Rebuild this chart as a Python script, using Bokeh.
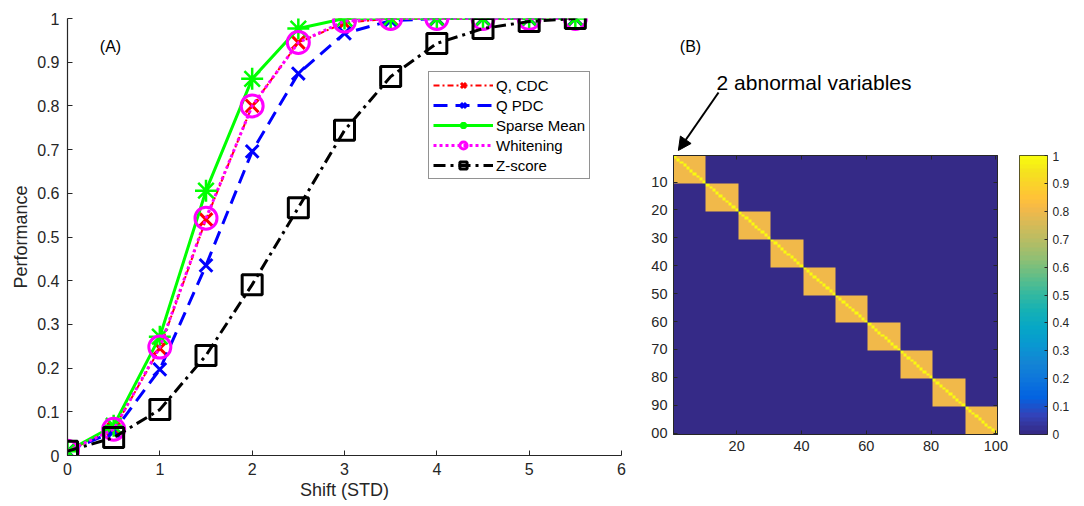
import numpy as np
from bokeh.plotting import figure
from bokeh.models import (Range1d, FixedTicker, Legend, LegendItem, Label, Arrow, NormalHead,
                          LinearAxis, LinearColorMapper)
from bokeh.layouts import row, column
from bokeh.embed import file_html
from bokeh.resources import INLINE

# ---------------- data: panel (A) ----------------
shift = [0, 0.5, 1, 1.5, 2, 2.5, 3, 3.5, 4, 4.5, 5, 5.5]
q_cdc = [0.01, 0.06, 0.245, 0.54, 0.80, 0.945, 0.99, 1.0, 1.0, 1.0, 1.0, 1.0]
q_pdc = [0.01, 0.055, 0.197, 0.435, 0.696, 0.874, 0.966, 0.995, 1.0, 1.0, 1.0, 1.0]
sparse_mean = [0.01, 0.068, 0.272, 0.606, 0.862, 0.977, 1.0, 1.0, 1.0, 1.0, 1.0, 1.0]
whitening = [0.01, 0.06, 0.248, 0.543, 0.80, 0.945, 0.994, 1.0, 1.0, 1.0, 1.0, 1.0]
z_score = [0.01, 0.041, 0.105, 0.229, 0.391, 0.567, 0.744, 0.867, 0.943, 0.977, 0.993, 1.0]
series_names = ["Q, CDC", "Q PDC", "Sparse Mean", "Whitening", "Z-score"]

x_ticks_a = [0, 1, 2, 3, 4, 5, 6]
y_ticks_a = [0, 0.1, 0.2, 0.3, 0.4, 0.5, 0.6, 0.7, 0.8, 0.9, 1]
y_labels_a = ["0", "0.1", "0.2", "0.3", "0.4", "0.5", "0.6", "0.7", "0.8", "0.9", "1"]

# ---------------- data: panel (B) ----------------
n_vars = 100
block_size = 10
within_block = 0.8
diagonal_value = 1.0
hm_x_ticks = [20, 40, 60, 80, 100]
hm_y_ticks = [10, 20, 30, 40, 50, 60, 70, 80, 90, 100]
hm_y_labels = ["10", "20", "30", "40", "50", "60", "70", "80", "90", "00"]
cb_ticks = [0, 0.1, 0.2, 0.3, 0.4, 0.5, 0.6, 0.7, 0.8, 0.9, 1]
cb_labels = ["0", "0.1", "0.2", "0.3", "0.4", "0.5", "0.6", "0.7", "0.8", "0.9", "1"]

FONT = "Liberation Sans"
AX = "#262626"

# ---------------- parula colormap (MATLAB default) ----------------
parula_idx = [0, 4, 8, 12, 16, 20, 24, 28, 32, 36, 40, 44, 48, 50, 51, 52, 54, 56, 60, 63]
parula_rgb = [
    (0.2081, 0.1663, 0.5292), (0.1959, 0.2645, 0.7279), (0.0117, 0.3875, 0.8820),
    (0.0498, 0.4586, 0.8641), (0.0793, 0.5200, 0.8312), (0.0343, 0.5966, 0.8199),
    (0.0228, 0.6535, 0.7768), (0.0843, 0.6928, 0.7062), (0.2178, 0.7250, 0.6193),
    (0.3953, 0.7459, 0.5244), (0.5709, 0.7485, 0.4494), (0.7184, 0.7411, 0.3905),
    (0.8507, 0.7299, 0.3360), (0.9139, 0.7258, 0.3063), (0.9450, 0.7261, 0.2886),
    (0.9739, 0.7314, 0.2666), (0.9990, 0.7653, 0.2164), (0.9880, 0.8066, 0.1794),
    (0.9589, 0.8949, 0.1132), (0.9763, 0.9831, 0.0538),
]
prgb = np.array(parula_rgb)
ppos = np.array(parula_idx) / 63.0
n_colors = 64
palette = []
for k in range(n_colors):
    t = k / (n_colors - 1)
    c = [int(round(255 * np.interp(t, ppos, prgb[:, ch]))) for ch in range(3)]
    palette.append("#%02x%02x%02x" % tuple(c))


def style_axis(ax, size, tick_in, label_size=None):
    ax.axis_line_color = AX
    ax.major_tick_line_color = AX
    ax.minor_tick_line_color = None
    ax.major_tick_in = tick_in
    ax.major_tick_out = 0
    ax.major_label_text_color = AX
    ax.major_label_text_font = FONT
    ax.major_label_text_font_size = size
    ax.axis_label_text_font = FONT
    ax.axis_label_text_font_size = label_size or size
    ax.axis_label_text_font_style = "normal"
    ax.axis_label_text_color = AX


# ================= Panel A =================
p1 = figure(frame_width=554, frame_height=437, x_range=Range1d(0, 6), y_range=Range1d(0, 1),
            min_border_left=67, min_border_right=19, min_border_top=18, min_border_bottom=51,
            output_backend="svg", toolbar_location=None)
p1.frame_align = False
p1.outline_line_color = None
p1.grid.visible = False
p1.background_fill_color = "white"
p1.border_fill_color = "white"

for ax in (p1.xaxis[0], p1.yaxis[0]):
    style_axis(ax, "16px", 5, "18px")
    ax.axis_line_width = 1.2

p1.xaxis.ticker = FixedTicker(ticks=x_ticks_a)
p1.yaxis.ticker = FixedTicker(ticks=y_ticks_a)
p1.yaxis.major_label_overrides = {t: l for t, l in zip(y_ticks_a, y_labels_a)}
p1.xaxis.axis_label = "Shift (STD)"
p1.yaxis.axis_label = "Performance"
p1.xaxis.major_label_standoff = 7
p1.yaxis.major_label_standoff = 8
p1.xaxis.axis_label_standoff = 2
p1.yaxis.axis_label_standoff = 3

styles = [
    dict(y=q_cdc, color="#ff0000", dash="6 3 2 3", lw=2, marker="x", size=18, mlw=3),
    dict(y=q_pdc, color="#0000ff", dash="14 8", lw=3, marker="x", size=18, mlw=3),
    dict(y=sparse_mean, color="#00ff00", dash="solid", lw=3, marker="asterisk", size=22, mlw=2.5),
    dict(y=whitening, color="#ff00ff", dash="3 3", lw=3, marker="circle", size=22, mlw=3),
    dict(y=z_score, color="#000000", dash="12 5 3 5", lw=3, marker="square", size=20, mlw=3),
]
items = []
for name, s in zip(series_names, styles):
    lr = p1.line(shift, s["y"], line_color=s["color"], line_width=s["lw"], line_dash=s["dash"])
    sr = p1.scatter(shift, s["y"], marker=s["marker"], size=s["size"], line_color=s["color"],
                    line_width=s["mlw"], fill_color=None)
    items.append(LegendItem(label=name, renderers=[lr, sr]))

legend = Legend(items=items, location=(361, 276), glyph_width=60, glyph_height=18, label_height=18,
                spacing=2, padding=4, margin=0, label_standoff=3,
                label_text_font=FONT, label_text_font_size="15px", label_text_color="#000000",
                border_line_color=AX, border_line_width=1, background_fill_color="white",
                background_fill_alpha=1)
p1.add_layout(legend)

p1.add_layout(Label(x=0.466, y=0.936, text="(A)", text_align="center", text_baseline="middle",
                    text_font=FONT, text_font_size="16px", text_color="#000000"))

# ================= Panel B: heat map =================
mat = np.zeros((n_vars, n_vars))
for i in range(n_vars):
    for j in range(n_vars):
        if i // block_size == j // block_size:
            mat[i, j] = within_block
        if i == j:
            mat[i, j] = diagonal_value

mapper = LinearColorMapper(palette=palette, low=0, high=1)

HM_W, HM_H = 324, 279          # heat-map frame size in px
HM_LEFT_PAD = 33               # px from panel start (x=640) to frame
ANN_H = 151                    # height of the annotation strip above the heat map
TOP_PAD = 4                    # px between strip and heat-map frame

p2 = figure(frame_width=HM_W, frame_height=HM_H, x_range=Range1d(0.5, n_vars + 0.5),
            y_range=Range1d(n_vars + 0.5, 0.5),
            min_border_left=HM_LEFT_PAD, min_border_right=22, min_border_top=TOP_PAD,
            min_border_bottom=72, output_backend="svg", toolbar_location=None)
p2.frame_align = False
p2.grid.visible = False
p2.outline_line_color = AX
p2.background_fill_color = "white"
p2.border_fill_color = "white"
p2.image(image=[mat], x=0.5, y=0.5, dw=n_vars, dh=n_vars, color_mapper=mapper)

bottom_ax = p2.below[0]
left_ax = p2.left[0]
bottom_ax.ticker = FixedTicker(ticks=hm_x_ticks)
left_ax.ticker = FixedTicker(ticks=hm_y_ticks)
left_ax.major_label_overrides = {t: l for t, l in zip(hm_y_ticks, hm_y_labels)}
style_axis(bottom_ax, "14.5px", 4)
style_axis(left_ax, "14.5px", 4)
bottom_ax.major_label_standoff = 6
left_ax.major_label_standoff = 6

top_ax = LinearAxis(ticker=FixedTicker(ticks=hm_x_ticks),
                    major_label_overrides={t: "" for t in hm_x_ticks})
right_ax = LinearAxis(ticker=FixedTicker(ticks=hm_y_ticks),
                      major_label_overrides={t: "" for t in hm_y_ticks})
for ax in (top_ax, right_ax):
    style_axis(ax, "1px", 4)
    ax.major_label_standoff = 0
p2.add_layout(top_ax, "above")
p2.add_layout(right_ax, "right")

# ================= colour bar =================
cb_values = np.linspace(0, 1, 256).reshape(256, 1)
p3 = figure(frame_width=28, frame_height=HM_H, x_range=Range1d(0, 1), y_range=Range1d(0, 1),
            min_border_left=0, min_border_right=37, min_border_top=TOP_PAD, min_border_bottom=72,
            x_axis_location=None, y_axis_location="right",
            output_backend="svg", toolbar_location=None)
p3.frame_align = False
p3.grid.visible = False
p3.outline_line_color = AX
p3.border_fill_color = "white"
p3.image(image=[cb_values], x=0, y=0, dw=1, dh=1, color_mapper=mapper)
cb_ax = p3.right[0]
cb_ax.ticker = FixedTicker(ticks=cb_ticks)
cb_ax.major_label_overrides = {t: l for t, l in zip(cb_ticks, cb_labels)}
style_axis(cb_ax, "12px", 3)
cb_ax.axis_line_color = None
cb_ax.major_label_standoff = 5

# ================= annotation strip (same data units as the heat map) =================
ux = n_vars / HM_W
uy = n_vars / HM_H
pa = figure(frame_width=444, frame_height=ANN_H,
            x_range=Range1d(0.5 - HM_LEFT_PAD * ux, 0.5 + (444 - HM_LEFT_PAD) * ux),
            y_range=Range1d(0.5 - TOP_PAD * uy, 0.5 - (TOP_PAD + ANN_H) * uy),
            min_border=0, x_axis_location=None, y_axis_location=None,
            output_backend="svg", toolbar_location=None)
pa.frame_align = False
pa.grid.visible = False
pa.outline_line_color = None
pa.background_fill_color = "white"
pa.border_fill_color = "white"
pa.add_layout(Arrow(end=NormalHead(size=13, fill_color="black", line_color="black", line_width=1),
                    x_start=14.4, y_start=-22.1, x_end=2.0, y_end=-1.3,
                    line_color="black", line_width=2))
pa.add_layout(Label(x=13.8, y=-25.7, text="2 abnormal variables", text_align="left",
                    text_baseline="middle", text_font=FONT, text_font_size="21px",
                    text_color="#000000"))
pa.add_layout(Label(x=5.75, y=-38.6, text="(B)", text_align="center", text_baseline="middle",
                    text_font=FONT, text_font_size="16px", text_color="#000000"))

layout = row(p1, column(pa, row(p2, p3)))
open("out.html", "w").write(file_html(layout, INLINE))
